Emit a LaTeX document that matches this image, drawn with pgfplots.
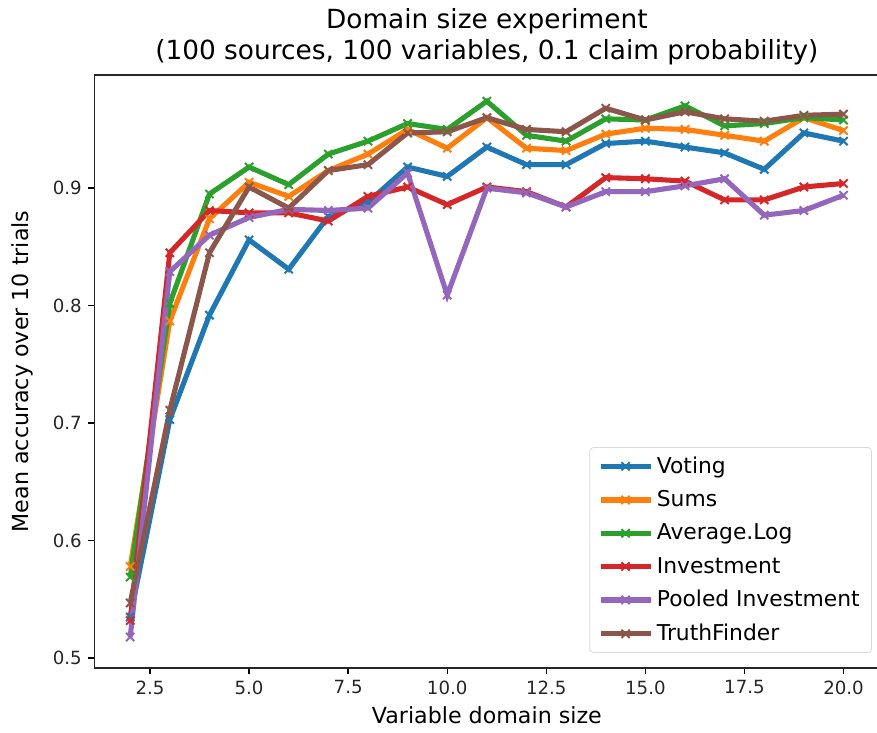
\documentclass[border=0pt]{standalone}
\usepackage{fontspec}
\setmainfont{DejaVu Sans}
\usepackage{pgfplots}
\pgfplotsset{compat=1.18}
\definecolor{tblue}{HTML}{1F77B4}
\definecolor{torange}{HTML}{FF7F0E}
\definecolor{tgreen}{HTML}{2CA02C}
\definecolor{tred}{HTML}{D62728}
\definecolor{tpurple}{HTML}{9467BD}
\definecolor{tbrown}{HTML}{8C564B}
\begin{document}
\begin{tikzpicture}
\clip (-52pt,-35.75pt) rectangle (430.4pt,367.4pt);
\begin{axis}[
  at={(0pt,0pt)}, anchor=south west,
  scale only axis, width=431.6pt, height=326.2pt,
  xmin=1.1, xmax=20.9, ymin=0.4917, ymax=0.9964,
  xtick={2.5,5,7.5,10,12.5,15,17.5,20},
  ytick={0.5,0.6,0.7,0.8,0.9},
  xticklabel style={/pgf/number format/.cd,fixed,fixed zerofill,precision=1},
  yticklabel style={/pgf/number format/.cd,fixed,fixed zerofill,precision=1},
  /pgf/number format/assume math mode=true,
  tick label style={font=\fontsize{10}{12}\selectfont, text=black!85},
  label style={font=\fontsize{12.2}{14}\selectfont},
  tick align=outside, tick pos=left,
  major tick length=3.5pt,
  every tick/.style={black, line width=0.8pt},
  axis line style={line width=0.8pt, black!85},
  title style={font=\fontsize{14.5}{17}\selectfont, align=center, yshift=-4pt},
  title={Domain size experiment\\(100 sources, 100 variables, 0.1 claim probability)},
  xlabel={Variable domain size},
  ylabel={Mean accuracy over 10 trials},
  xlabel style={yshift=0pt},
  ylabel style={yshift=4pt},
  legend style={at={(0.9908,0.0253)}, anchor=south east,
    font=\fontsize{12}{14}\selectfont, draw=black!15, rounded corners=2pt,
    fill=white, fill opacity=0.8, text opacity=1, row sep=4pt,
    inner xsep=4.5pt, inner ysep=3pt},
  legend cell align=left,
  legend image code/.code={\draw[#1, mark repeat=2, mark phase=2] plot coordinates {(0cm,0cm) (0.485cm,0cm) (0.97cm,0cm)};},
  every axis plot/.append style={line width=2.8pt, mark=x, mark size=3.2pt, mark options={solid, line width=1.1pt}},
]
\addplot[tblue] coordinates {(2,0.535)(3,0.703)(4,0.792)(5,0.856)(6,0.831)(7,0.876)(8,0.888)(9,0.918)(10,0.910)(11,0.935)(12,0.920)(13,0.920)(14,0.938)(15,0.940)(16,0.935)(17,0.930)(18,0.916)(19,0.947)(20,0.940)};
\addlegendentry{Voting}
\addplot[torange] coordinates {(2,0.578)(3,0.787)(4,0.874)(5,0.905)(6,0.893)(7,0.915)(8,0.929)(9,0.950)(10,0.934)(11,0.960)(12,0.934)(13,0.932)(14,0.946)(15,0.951)(16,0.950)(17,0.945)(18,0.940)(19,0.960)(20,0.949)};
\addlegendentry{Sums}
\addplot[tgreen] coordinates {(2,0.569)(3,0.802)(4,0.895)(5,0.918)(6,0.903)(7,0.929)(8,0.940)(9,0.955)(10,0.950)(11,0.974)(12,0.945)(13,0.940)(14,0.959)(15,0.958)(16,0.970)(17,0.953)(18,0.955)(19,0.960)(20,0.958)};
\addlegendentry{Average.Log}
\addplot[tred] coordinates {(2,0.532)(3,0.845)(4,0.881)(5,0.879)(6,0.879)(7,0.872)(8,0.893)(9,0.901)(10,0.886)(11,0.901)(12,0.897)(13,0.884)(14,0.909)(15,0.908)(16,0.906)(17,0.890)(18,0.890)(19,0.901)(20,0.904)};
\addlegendentry{Investment}
\addplot[tpurple] coordinates {(2,0.518)(3,0.829)(4,0.860)(5,0.875)(6,0.882)(7,0.881)(8,0.883)(9,0.913)(10,0.809)(11,0.900)(12,0.896)(13,0.884)(14,0.897)(15,0.897)(16,0.902)(17,0.908)(18,0.877)(19,0.881)(20,0.894)};
\addlegendentry{Pooled Investment}
\addplot[tbrown] coordinates {(2,0.547)(3,0.711)(4,0.845)(5,0.901)(6,0.883)(7,0.915)(8,0.920)(9,0.947)(10,0.948)(11,0.960)(12,0.950)(13,0.948)(14,0.968)(15,0.958)(16,0.965)(17,0.959)(18,0.957)(19,0.962)(20,0.963)};
\addlegendentry{TruthFinder}
\end{axis}
\end{tikzpicture}
\end{document}
